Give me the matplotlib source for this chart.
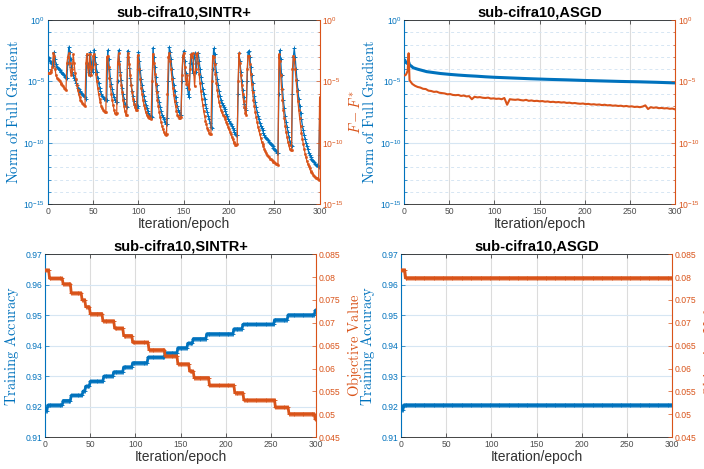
import numpy as np
import matplotlib
matplotlib.use('Agg')
import matplotlib.pyplot as plt
from matplotlib.ticker import FixedLocator, FuncFormatter, NullFormatter

plt.rcParams['font.family'] = 'Liberation Sans'
plt.rcParams['mathtext.fontset'] = 'cm'

blue = '#0072BD'
orange = '#D95319'
dark = '#262626'

# ---- top left: SINTR+ gradient norm / F - F* (log10 values, one per epoch 0..300)
sintr_grad = [
    -3.0, -3.1, -3.3, -3.4, -3.5, -3.6, -3.7, -2.6, -3.2, -3.6,
    -3.8, -3.9, -4.0, -4.1, -4.2, -4.25, -4.3, -4.4, -4.5, -4.6,
    -4.7, -4.75, -3.5, -2.2, -2.6, -3.2, -3.8, -4.2, -4.5, -4.7,
    -4.9, -5.1, -5.3, -5.5, -5.6, -5.75, -5.85, -5.95, -6.05, -6.1,
    -6.2, -6.3, -6.4, -2.85, -3.6, -4.2, -4.5, -2.6, -3.5, -4.0,
    -4.2, -2.4, -3.0, -3.6, -4.2, -4.7, -5.1, -5.5, -5.8, -6.0,
    -6.15, -6.3, -6.4, -6.45, -6.5, -6.5, -2.45, -3.2, -4.0, -4.7,
    -5.2, -5.6, -6.0, -6.3, -6.5, -6.65, -6.7, -5.0, -2.45, -3.3,
    -4.2, -4.9, -5.5, -6.0, -6.4, -6.8, -7.0, -7.05, -2.5, -3.0,
    -3.9, -4.7, -5.3, -5.8, -6.2, -6.6, -6.9, -7.1, -7.2, -7.0,
    -2.6, -3.3, -4.1, -4.8, -5.3, -5.8, -6.2, -6.6, -6.9, -7.2,
    -7.4, -7.6, -7.7, -7.8, -7.8, -7.9, -2.25, -3.0, -3.8, -4.6,
    -5.3, -5.8, -6.3, -6.7, -7.1, -7.4, -7.7, -7.9, -8.1, -8.3,
    -8.5, -8.5, -8.0, -5.0, -2.2, -2.6, -3.2, -4.0, -4.7, -5.3,
    -5.8, -6.3, -6.7, -7.0, -7.3, -7.5, -7.7, -7.75, -5.0, -3.0,
    -2.5, -3.3, -4.3, -5.0, -5.5, -6.0, -6.3, -3.5, -2.8, -3.6,
    -4.3, -3.0, -2.7, -3.5, -4.2, -3.0, -2.7, -3.3, -4.0, -4.6,
    -5.1, -5.6, -6.0, -6.4, -6.8, -7.2, -7.5, -7.8, -8.1, -8.4,
    -8.7, -8.8, -4.0, -2.3, -2.8, -3.5, -4.2, -4.8, -5.3, -5.8,
    -6.2, -6.5, -6.75, -6.95, -7.1, -7.25, -7.45, -7.65, -7.85, -8.05,
    -8.2, -8.35, -8.5, -8.65, -8.8, -9.0, -9.15, -9.3, -9.4, -9.4,
    -6.0, -2.7, -3.3, -4.2, -5.0, -5.7, -6.3, -6.8, -7.2, -7.3,
    -5.0, -2.6, -2.5, -3.0, -3.8, -4.5, -5.1, -5.7, -6.2, -6.7,
    -7.1, -7.5, -7.8, -8.1, -8.4, -8.6, -8.8, -9.0, -9.2, -9.35,
    -9.5, -9.6, -9.7, -9.8, -9.9, -10.0, -10.1, -10.2, -10.3, -10.4,
    -10.5, -10.6, -10.7, -10.8, -10.85, -6.0, -2.45, -3.2, -4.5, -5.6,
    -6.5, -7.2, -7.8, -8.3, -8.7, -9.1, -9.5, -9.9, -10.2, -10.3,
    -6.0, -3.0, -2.3, -3.0, -4.0, -4.9, -5.7, -6.4, -7.0, -7.6,
    -8.1, -8.6, -9.0, -9.4, -9.7, -10.0, -10.3, -10.5, -10.8, -11.0,
    -11.2, -11.3, -11.4, -11.5, -11.6, -11.7, -11.8, -11.85, -11.9, -11.95,
    -8.1]
sintr_gap = [
    -4.35, -4.3, -4.3, -4.2, -4.1, -3.8, -2.7, -2.9, -4.0, -4.5,
    -4.7, -4.8, -4.9, -5.0, -5.1, -5.2, -5.3, -5.4, -5.5, -5.6,
    -5.7, -3.5, -3.0, -2.7, -3.5, -4.2, -4.5, -4.0, -2.8, -3.5,
    -4.3, -4.8, -5.3, -5.7, -6.0, -6.3, -6.5, -6.6, -6.75, -6.85,
    -6.9, -7.0, -3.5, -2.75, -3.8, -4.5, -2.75, -3.7, -4.5, -3.8,
    -2.9, -2.8, -3.6, -4.4, -5.0, -5.5, -6.0, -6.4, -6.7, -7.0,
    -7.2, -7.3, -7.4, -7.5, -7.5, -3.0, -2.9, -3.8, -4.7, -5.4,
    -6.0, -6.5, -6.9, -7.3, -7.6, -7.65, -7.6, -3.5, -2.7, -3.6,
    -4.5, -5.3, -5.9, -6.5, -7.0, -7.4, -7.7, -7.75, -3.0, -2.7,
    -3.6, -4.5, -5.3, -5.9, -6.4, -6.8, -7.1, -7.3, -7.3, -2.85,
    -3.3, -4.0, -4.8, -5.5, -6.0, -6.5, -6.9, -7.2, -7.5, -7.7,
    -7.85, -7.9, -7.95, -8.0, -8.05, -5.0, -2.75, -3.5, -4.4, -5.2,
    -5.9, -6.5, -7.0, -7.5, -7.9, -8.3, -8.6, -8.9, -9.1, -9.3,
    -9.4, -9.3, -6.0, -3.0, -2.7, -3.3, -4.0, -4.8, -5.5, -6.1,
    -6.6, -7.0, -7.4, -7.7, -7.85, -7.95, -8.0, -7.9, -4.5, -2.9,
    -2.7, -3.8, -4.8, -5.2, -4.5, -5.3, -5.6, -4.0, -2.8, -3.0,
    -2.7, -4.2, -5.4, -4.0, -2.8, -2.7, -3.5, -4.4, -5.1, -5.8,
    -6.4, -6.9, -7.4, -7.8, -8.2, -8.5, -8.8, -9.0, -9.2, -9.3,
    -9.3, -5.0, -2.9, -3.0, -3.6, -4.4, -5.1, -5.7, -6.2, -6.7,
    -7.0, -7.3, -7.5, -7.7, -7.8, -7.9, -8.1, -8.3, -8.5, -8.7,
    -8.9, -9.1, -9.3, -9.5, -9.7, -9.9, -10.0, -10.2, -10.2, -10.1,
    -5.0, -2.7, -3.5, -4.5, -5.3, -6.0, -6.6, -7.1, -7.6, -7.7,
    -4.0, -2.9, -2.9, -3.6, -4.4, -5.2, -5.9, -6.5, -7.0, -7.5,
    -7.9, -8.3, -8.7, -9.0, -9.3, -9.6, -9.9, -10.1, -10.3, -10.5,
    -10.7, -10.85, -11.0, -11.1, -11.2, -11.3, -11.35, -11.4, -11.5, -11.55,
    -11.6, -11.65, -11.7, -11.75, -11.8, -2.8, -3.3, -4.5, -5.6, -6.5,
    -7.3, -8.0, -8.6, -9.1, -9.5, -9.9, -10.2, -10.5, -10.6, -10.6,
    -4.0, -2.9, -3.2, -4.0, -4.9, -5.8, -6.6, -7.3, -8.0, -8.6,
    -9.2, -9.7, -10.1, -10.5, -10.9, -11.2, -11.5, -11.7, -11.9, -12.1,
    -12.3, -12.4, -12.5, -12.6, -12.7, -12.8, -12.85, -12.9, -12.95, -13.0,
    -6.3]
sintr_epochs = np.arange(len(sintr_grad))

# ---- top right: ASGD
asgd_grad_epochs = [1, 2, 3, 4, 5, 6, 8, 10, 15, 20, 25, 30, 40, 50, 60, 70, 80, 90, 100,
                    120, 140, 160, 180, 200, 220, 240, 260, 280, 300]
asgd_grad = [-3.3, -3.45, -3.5, -3.55, -3.4, -3.65, -3.75, -3.88, -4.0, -4.1, -4.2, -4.25,
             -4.35, -4.42, -4.48, -4.53, -4.57, -4.62, -4.66, -4.72, -4.78, -4.83, -4.87,
             -4.92, -4.96, -5.0, -5.03, -5.07, -5.12]
asgd_gap_epochs = [1, 2, 3, 4, 5] + list(range(6, 301, 3))
asgd_gap = [-4.5, -4.45, -4.3, -4.1, -2.7,
            -4.9, -5.2, -5.35, -5.45, -5.5, -5.6, -5.62, -5.75, -5.78, -5.85,
            -5.83, -5.92, -5.95, -5.98, -6.05, -6.03, -6.1, -6.12, -6.1, -6.18,
            -6.15, -6.22, -6.2, -6.45, -6.25, -6.3, -6.28, -6.33, -6.35, -6.32,
            -6.4, -6.38, -6.42, -6.4, -6.45, -6.35, -6.9, -6.45, -6.48, -6.5,
            -6.47, -6.52, -6.55, -6.5, -6.58, -6.55, -6.6, -6.58, -6.62, -6.6,
            -6.65, -6.63, -6.68, -6.66, -6.7, -6.68, -6.72, -6.7, -6.75, -6.73,
            -6.78, -6.76, -6.8, -6.82, -6.8, -6.85, -6.83, -6.88, -6.86, -6.9,
            -6.88, -6.93, -6.9, -6.95, -6.93, -6.98, -6.96, -7.0, -6.98, -7.03,
            -7.0, -7.05, -7.03, -7.08, -7.06, -7.1, -7.05, -6.95, -7.25, -7.1,
            -7.15, -7.12, -7.18, -7.16, -7.2, -7.18, -7.23, -7.21, -7.28]

# ---- bottom: accuracy and objective, as step changes (start epoch, level)
sintr_acc_start = [0, 3, 20, 29, 42, 45, 50, 65, 76, 87, 97, 114, 133, 147, 158, 164, 179, 209, 219, 254, 269, 299]
sintr_acc = [0.9187, 0.9205, 0.922, 0.9237, 0.9251, 0.9267, 0.9283, 0.930, 0.9314, 0.933, 0.9344,
             0.9362, 0.9376, 0.9393, 0.9408, 0.9423, 0.9439, 0.9455, 0.947, 0.9485, 0.9501, 0.9516]
sintr_obj_start = [0, 5, 20, 29, 41, 45, 50, 64, 77, 87, 97, 115, 133, 147, 160, 165, 182, 210, 220, 255, 270, 299]
sintr_obj = [0.0815, 0.0797, 0.0785, 0.0765, 0.075, 0.0735, 0.072, 0.0704, 0.0688, 0.0672, 0.0657,
             0.0641, 0.0627, 0.061, 0.0594, 0.058, 0.0563, 0.0547, 0.0531, 0.0515, 0.0501, 0.0489]
asgd_acc_start = [0, 3]
asgd_acc = [0.919, 0.9205]
asgd_obj_start = [0, 5]
asgd_obj = [0.0815, 0.0798]

epochs = np.arange(0, 301)


def steps(start, levels):
    # expand (start epoch, level) pairs into one value per epoch
    out = np.zeros(len(epochs))
    for s, v in zip(start, levels):
        out[epochs >= s] = v
    return out


def style_axes(ax, ax2):
    ax.set_xlim(0, 300)
    ax.set_xticks(np.arange(0, 301, 50))
    ax.xaxis.set_ticks_position('both')
    ax.tick_params(axis='x', direction='in', length=3, width=0.5, labelsize=6.2, colors=dark, pad=2)
    ax.tick_params(axis='x', labelcolor='#4d4d4d')
    ax.tick_params(axis='y', which='both', direction='in', width=0.5, labelsize=6.2, colors=blue, pad=2)
    ax2.tick_params(axis='y', which='both', direction='in', width=0.5, labelsize=6.2, colors=orange, pad=2)
    ax.tick_params(axis='y', which='major', length=3)
    ax.tick_params(axis='y', which='minor', length=1.8)
    ax2.tick_params(axis='y', which='major', length=3)
    ax2.tick_params(axis='y', which='minor', length=1.8)
    for s in ['top', 'bottom']:
        ax.spines[s].set_color(dark)
        ax.spines[s].set_linewidth(0.6)
        ax2.spines[s].set_visible(False)
    ax.spines['left'].set_color(blue)
    ax.spines['right'].set_visible(False)
    ax2.spines['left'].set_visible(False)
    ax2.spines['right'].set_color(orange)
    ax.xaxis.grid(True, color='#dcdcdc', lw=0.8)
    ax.yaxis.grid(True, which='major', color='#d6e6f3', lw=0.8)
    ax.set_axisbelow(True)
    ax.set_xlabel('Iteration/epoch', fontsize=10, color='#333333', labelpad=1)


def log_axes(ax, ax2):
    for a in (ax, ax2):
        a.set_yscale('log')
        a.set_ylim(1e-15, 1)
        a.yaxis.set_major_locator(FixedLocator([1e-15, 1e-10, 1e-5, 1]))
        a.yaxis.set_major_formatter(FuncFormatter(
            lambda v, p: r'$\mathregular{10^{%d}}$' % round(np.log10(v))))
        a.yaxis.set_minor_locator(FixedLocator(10.0 ** np.arange(-15, 1)))
        a.yaxis.set_minor_formatter(NullFormatter())
    ax.yaxis.grid(True, which='minor', color='#d6e6f3', lw=0.7, ls=(0, (3, 3)))


def lin_axes(ax, ax2):
    ax.set_ylim(0.91, 0.97)
    ax.set_yticks(np.arange(0.91, 0.9701, 0.01))
    ax.yaxis.set_major_formatter(FuncFormatter(lambda v, p: '%g' % round(v, 3)))
    ax2.set_ylim(0.045, 0.085)
    ax2.set_yticks(np.arange(0.045, 0.0851, 0.005))
    ax2.yaxis.set_major_formatter(FuncFormatter(lambda v, p: '%g' % round(v, 4)))


fig = plt.figure(figsize=(7.04, 4.69), dpi=100)
lab = dict(fontsize=10.5)

# top left
ax = fig.add_axes([0.068, 0.565, 0.386, 0.392])
ax2 = ax.twinx()
ax.plot(sintr_epochs, 10.0 ** np.array(sintr_grad), '-', color=blue, lw=0.9,
        marker='+', ms=2.5, mew=0.7)
ax2.plot(sintr_epochs, 10.0 ** np.array(sintr_gap), '-', color=orange, lw=0.9,
         marker='o', ms=1.6, mew=0.4)
log_axes(ax, ax2)
style_axes(ax, ax2)
ax.set_title('sub-cifra10,SINTR+', fontsize=10.5, fontweight='bold', pad=3)
ax.set_ylabel(r'$\mathrm{Norm\ of\ Full\ Gradient}$', color=blue, labelpad=2, **lab)
ax2.set_ylabel(r'$F-F^{*}$', color=orange, labelpad=3, **lab)

# top right
ax = fig.add_axes([0.574, 0.565, 0.385, 0.392])
ax2 = ax.twinx()
ax.plot(asgd_grad_epochs, 10.0 ** np.array(asgd_grad), '-', color=blue, lw=2.2)
ax2.plot(asgd_gap_epochs, 10.0 ** np.array(asgd_gap), '-', color=orange, lw=1.5)
log_axes(ax, ax2)
style_axes(ax, ax2)
ax.set_title('sub-cifra10,ASGD', fontsize=10.5, fontweight='bold', pad=3)
ax.set_ylabel(r'$\mathrm{Norm\ of\ Full\ Gradient}$', color=blue, labelpad=2, **lab)
ax2.set_ylabel(r'$F-F^{*}$', color=orange, labelpad=3, **lab)

# bottom left
ax = fig.add_axes([0.064, 0.068, 0.385, 0.390])
ax2 = ax.twinx()
ax.plot(epochs, steps(sintr_acc_start, sintr_acc), '-', color=blue, lw=2.0,
        marker='+', ms=2.5, mew=0.6)
ax2.plot(epochs, steps(sintr_obj_start, sintr_obj), '-', color=orange, lw=2.0,
         marker='+', ms=2.5, mew=0.6)
lin_axes(ax, ax2)
style_axes(ax, ax2)
ax.set_title('sub-cifra10,SINTR+', fontsize=10.5, fontweight='bold', pad=3)
ax.set_ylabel(r'$\mathrm{Training\ Accuracy}$', color=blue, labelpad=3, **lab)
ax2.set_ylabel(r'$\mathrm{Objective\ Value}$', color=orange, labelpad=3, **lab)

# bottom right
ax = fig.add_axes([0.5696, 0.068, 0.385, 0.390])
ax2 = ax.twinx()
ax.plot(epochs, steps(asgd_acc_start, asgd_acc), '-', color=blue, lw=2.2,
        marker='+', ms=2.5, mew=0.6)
ax2.plot(epochs, steps(asgd_obj_start, asgd_obj), '-', color=orange, lw=2.2,
         marker='+', ms=2.5, mew=0.6)
lin_axes(ax, ax2)
style_axes(ax, ax2)
ax.set_title('sub-cifra10,ASGD', fontsize=10.5, fontweight='bold', pad=3)
ax.set_ylabel(r'$\mathrm{Training\ Accuracy}$', color=blue, labelpad=3, **lab)
ax2.set_ylabel(r'$\mathrm{Objective\ Value}$', color=orange, labelpad=3, **lab)

print(len(sintr_grad), len(sintr_gap), len(asgd_gap_epochs), len(asgd_gap))
fig.savefig('out.png', dpi=100)
